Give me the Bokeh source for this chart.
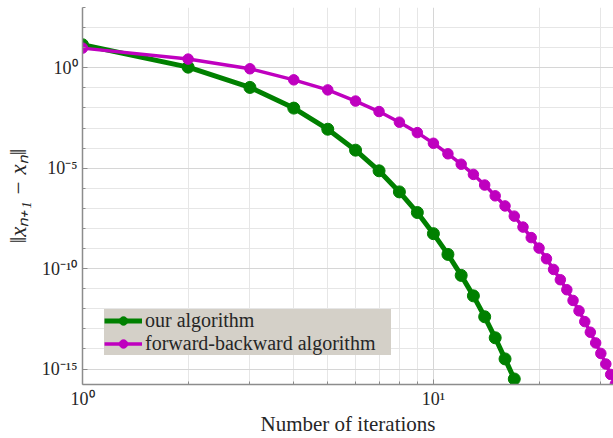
from bokeh.plotting import figure
from bokeh.models import FixedTicker, CustomJSTickFormatter, Range1d, Legend
from bokeh.embed import file_html
from bokeh.resources import INLINE

# ---- data ----
n_ours = list(range(1, 18))
err_ours = [1.4e1, 1.07, 1.05e-1, 9.8e-3, 8.7e-4, 7.9e-5, 7.4e-6, 6.6e-7, 6.2e-8,
            5.5e-9, 5.1e-10, 4.6e-11, 4.4e-12, 4.0e-13, 3.6e-14, 3.2e-15, 3.2e-16]

n_fb = list(range(1, 34))
err_fb = [9.5, 2.7, 8.9e-1, 2.5e-1, 7.9e-2, 2.2e-2, 6.6e-3, 1.95e-3, 5.9e-4, 1.74e-4,
          5.2e-5, 1.58e-5, 4.9e-6, 1.45e-6, 4.2e-7, 1.32e-7, 4.1e-8, 1.17e-8, 3.5e-9,
          1.05e-9, 3.1e-10, 9.1e-11, 2.8e-11, 8.9e-12, 2.6e-12, 7.9e-13, 2.3e-13,
          6.8e-14, 2.0e-14, 6.0e-15, 1.78e-15, 5.4e-16, 1.78e-16]

label_ours = "our algorithm"
label_fb = "forward-backward algorithm"
x_label = "Number of iterations"
y_label = "\u2016x\u2099\u208a\u2081 \u2212 x\u2099\u2016"

x_major = [1, 10]
x_minor = [2, 3, 4, 5, 6, 7, 8, 9, 20, 30]
y_major = [1e-15, 1e-10, 1e-5, 1]
y_minor = [10.0 ** k for k in range(-16, 4)]

FONT = "Liberation Serif"
TXT = "#262626"

p = figure(width=613, height=438, x_axis_type="log", y_axis_type="log",
           x_range=Range1d(1, 32.6), y_range=Range1d(1.7e-16, 1e3),
           output_backend="svg", toolbar_location=None,
           min_border_left=82, min_border_right=0, min_border_top=7, min_border_bottom=54)
p.outline_line_color = None
p.background_fill_color = "white"
p.border_fill_color = "white"

fmt = CustomJSTickFormatter(code="""
const e = Math.round(Math.log10(tick));
const m = {'0':'\u2070','1':'\u00b9','2':'\u00b2','3':'\u00b3','4':'\u2074','5':'\u2075',
           '6':'\u2076','7':'\u2077','8':'\u2078','9':'\u2079','-':'\u207b'};
return '10' + String(e).split('').map(c => m[c]).join('');
""")

for ax, maj, mnr in ((p.xaxis, x_major, x_minor), (p.yaxis, y_major, y_minor)):
    ax.ticker = FixedTicker(ticks=maj, minor_ticks=mnr)
    ax.formatter = fmt
    ax.major_label_text_font = FONT
    ax.major_label_text_font_size = "18px"
    ax.major_label_text_color = TXT
    ax.axis_label_text_font = FONT
    ax.axis_label_text_font_size = "21px"
    ax.axis_label_text_color = TXT
    ax.axis_label_text_font_style = "normal"
    ax.axis_line_color = "#8c8c8c"
    ax.axis_line_width = 1.5
    ax.major_tick_line_color = "#8c8c8c"
    ax.minor_tick_line_color = "#8c8c8c"
    ax.major_tick_in = 5
    ax.major_tick_out = 0
    ax.minor_tick_in = 3
    ax.minor_tick_out = 0

p.xaxis.axis_label = x_label
p.yaxis.axis_label = y_label
p.yaxis.axis_label_text_font_style = "italic"
p.yaxis.axis_label_text_font_size = "23px"
p.xaxis.major_label_standoff = 4
p.yaxis.major_label_standoff = 5
p.xaxis.axis_label_standoff = 0
p.yaxis.axis_label_standoff = 8

for g in (p.xgrid, p.ygrid):
    g.grid_line_color = "#d6d6d6"
    g.grid_line_width = 1
    g.minor_grid_line_color = "#e6e6e6"
    g.minor_grid_line_width = 1

GREEN = "#008000"
PURPLE = "#bf00bf"

l1 = p.line(n_ours, err_ours, line_color=GREEN, line_width=5)
s1 = p.scatter(n_ours, err_ours, size=12, fill_color=GREEN, line_color=GREEN)
l2 = p.line(n_fb, err_fb, line_color=PURPLE, line_width=3.5)
s2 = p.scatter(n_fb, err_fb, size=10.5, fill_color=PURPLE, line_color=PURPLE)

legend = Legend(items=[(label_ours, [l1, s1]), (label_fb, [l2, s2])],
                location=(22, 29), margin=0, padding=4, spacing=0,
                glyph_width=38, glyph_height=21, label_height=21, label_width=246,
                label_standoff=3,
                label_text_font=FONT, label_text_font_size="20px", label_text_color=TXT,
                background_fill_color="#d4d0c8", background_fill_alpha=1.0,
                border_line_color=None)
p.add_layout(legend, "center")

open("out.html", "w").write(file_html(p, INLINE))
